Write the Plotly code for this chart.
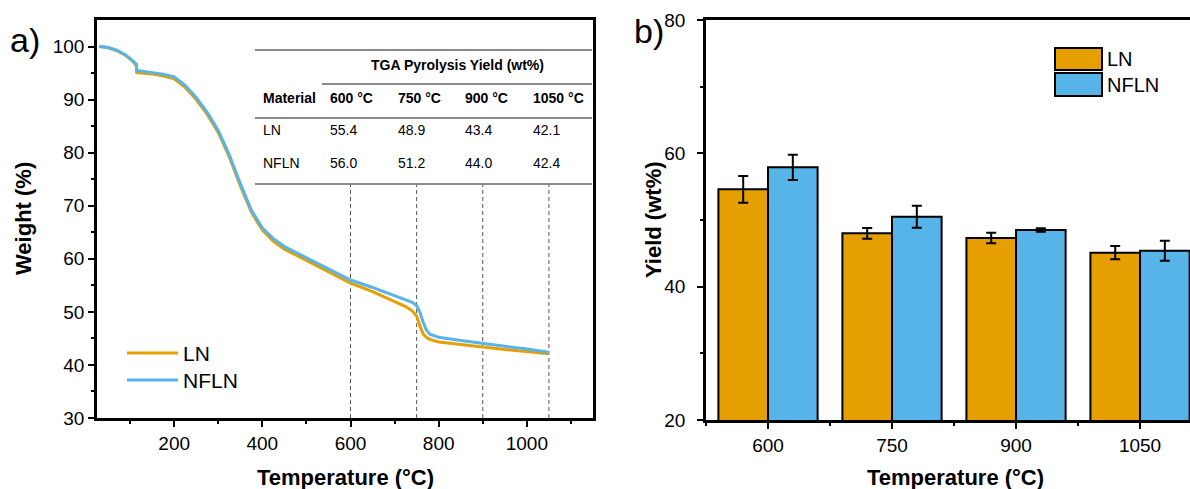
import plotly.graph_objects as go

W, H = 1190, 489


def px(x):
    return x / W


def py(y):
    return 1 - y / H


# ---------------- data ----------------
temps = [30, 50, 70, 90, 105, 114, 115, 130, 150, 175, 200, 225, 250, 275, 300,
         325, 350, 375, 400, 425, 450, 500, 550, 600, 650, 700, 725, 740, 750,
         758, 765, 772, 780, 800, 850, 900, 950, 1000, 1050]
weight_ln = [100.0, 99.8, 99.2, 98.3, 97.3, 96.5, 95.1, 95.0, 94.8, 94.5, 93.9,
             92.3, 90.0, 87.2, 83.8, 79.2, 73.8, 68.8, 65.4, 63.3, 61.8, 59.7,
             57.6, 55.4, 53.8, 52.0, 51.0, 50.2, 49.2, 47.2, 45.8, 45.2, 44.8,
             44.3, 43.9, 43.4, 42.9, 42.5, 42.1]
weight_nfln = [100.0, 99.8, 99.3, 98.4, 97.4, 96.7, 95.5, 95.3, 95.1, 94.8, 94.3,
               92.7, 90.4, 87.6, 84.2, 79.6, 74.2, 69.2, 65.8, 63.8, 62.3, 60.2,
               58.1, 56.0, 54.6, 53.1, 52.3, 51.8, 51.2, 49.8, 48.0, 46.6, 45.8,
               45.2, 44.6, 44.0, 43.5, 43.0, 42.4]

yield_temps = [600, 750, 900, 1050]
table_materials = ["LN", "NFLN"]
table_ln = [55.4, 48.9, 43.4, 42.1]
table_nfln = [56.0, 51.2, 44.0, 42.4]

bar_labels = ["600", "750", "900", "1050"]
yield_ln = [54.6, 48.0, 47.3, 45.1]
yield_ln_err = [2.0, 0.8, 0.8, 1.0]
yield_nfln = [57.9, 50.5, 48.5, 45.4]
yield_nfln_err = [1.9, 1.65, 0.25, 1.5]

ORANGE = "#E69F00"
BLUE = "#56B4E9"
FONT = "Liberation Sans, Arial, sans-serif"

fig = go.Figure()

# ---------------- panel a ----------------
fig.add_trace(go.Scatter(x=temps, y=weight_ln, mode="lines", name="LN",
                         line=dict(color=ORANGE, width=3), xaxis="x", yaxis="y",
                         showlegend=False))
fig.add_trace(go.Scatter(x=temps, y=weight_nfln, mode="lines", name="NFLN",
                         line=dict(color=BLUE, width=3), xaxis="x", yaxis="y",
                         showlegend=False))

# ---------------- panel b ----------------
bar_x = list(range(len(bar_labels)))
fig.add_trace(go.Bar(x=bar_x, y=yield_ln, name="LN", xaxis="x2", yaxis="y2",
                     marker=dict(color=ORANGE, line=dict(color="black", width=2)),
                     error_y=dict(type="data", array=yield_ln_err, color="black",
                                  thickness=2, width=5),
                     showlegend=False))
fig.add_trace(go.Bar(x=bar_x, y=yield_nfln, name="NFLN", xaxis="x2", yaxis="y2",
                     marker=dict(color=BLUE, line=dict(color="black", width=2)),
                     error_y=dict(type="data", array=yield_nfln_err, color="black",
                                  thickness=2, width=5),
                     showlegend=False))

axis_common = dict(showline=True, linewidth=2.5, linecolor="black", ticks="outside",
                   ticklen=6, tickwidth=2, tickcolor="black", showgrid=False,
                   zeroline=False, automargin=False,
                   tickfont=dict(family=FONT, size=19, color="black"))

fig.update_layout(
    width=W, height=H, margin=dict(l=0, r=0, t=0, b=0, pad=0, autoexpand=False),
    paper_bgcolor="white", plot_bgcolor="white",
    font=dict(family=FONT, color="black"),
    barmode="group", bargap=0.2, bargroupgap=0,
    xaxis=dict(domain=[px(97), px(593)], range=[25, 1150], anchor="y", mirror=True,
               tickvals=[200, 400, 600, 800, 1000],
               minor=dict(tickvals=[100, 300, 500, 700, 900, 1100], ticklen=3,
                          tickwidth=2, tickcolor="black", ticks="outside"),
               **axis_common),
    yaxis=dict(domain=[py(418), py(20)], range=[30, 105], anchor="x", mirror=True,
               tickvals=[30, 40, 50, 60, 70, 80, 90, 100],
               minor=dict(tickvals=[35, 45, 55, 65, 75, 85, 95], ticklen=3,
                          tickwidth=2, tickcolor="black", ticks="outside"),
               **axis_common),
    xaxis2=dict(domain=[px(706), 1.0], range=[-0.5, 3.403], anchor="y2", mirror=True,
                tickvals=bar_x, ticktext=bar_labels,
                minor=dict(tickvals=[-0.5, 0.5, 1.5, 2.5], ticklen=3,
                           tickwidth=2, tickcolor="black", ticks="outside"),
                **axis_common),
    yaxis2=dict(domain=[py(420), py(20)], range=[20, 80], anchor="x2",
                tickvals=[20, 40, 60, 80],
                minor=dict(tickvals=[30, 50, 70], ticklen=3,
                           tickwidth=2, tickcolor="black", ticks="outside"),
                ticklabelstandoff=8,
                **axis_common),
)

shapes = []
annotations = []

# dashed reference lines at the tabulated temperatures
for t in yield_temps:
    shapes.append(dict(type="line", xref="x", yref="y", x0=t, x1=t, y0=30, y1=74.1,
                       line=dict(color="#555555", width=1, dash="4px,3px"), layer="below"))

# table rules
for (x0, y) in [(255, 50), (322, 84), (255, 118), (255, 184)]:
    shapes.append(dict(type="line", xref="paper", yref="paper", x0=px(x0), x1=px(592),
                       y0=py(y), y1=py(y), line=dict(color="#8a8a8a", width=2)))


def text(x, y, s, size=14, bold=False, xanchor="left", textangle=0):
    annotations.append(dict(xref="paper", yref="paper", x=px(x), y=py(y),
                            text=f"<b>{s}</b>" if bold else s, showarrow=False,
                            xanchor=xanchor, yanchor="middle", textangle=textangle,
                            font=dict(family=FONT, size=size, color="black")))


# table text
text(457, 65, "TGA Pyrolysis Yield (wt%)", size=14, bold=True, xanchor="center")
col_x = [328, 396, 463, 531]
text(261, 98, "Material", size=14, bold=True)
for cx, t in zip(col_x, yield_temps):
    text(cx, 98, f"{t} °C", size=14, bold=True)
for ry, mat, vals in [(130, table_materials[0], table_ln), (163, table_materials[1], table_nfln)]:
    text(261, ry, mat, size=14)
    for cx, v in zip(col_x, vals):
        text(cx, ry, f"{v:.1f}", size=14)

# panel a legend
for y, c, name in [(353, ORANGE, "LN"), (380, BLUE, "NFLN")]:
    shapes.append(dict(type="line", xref="paper", yref="paper", x0=px(127), x1=px(178),
                       y0=py(y), y1=py(y), line=dict(color=c, width=3)))
    text(181, y, name, size=21)

# panel b legend
for (y0, y1), c, name in [((48, 70), ORANGE, "LN"), ((73, 96), BLUE, "NFLN")]:
    shapes.append(dict(type="rect", xref="paper", yref="paper", x0=px(1055), x1=px(1102),
                       y0=py(y1), y1=py(y0), fillcolor=c, line=dict(color="black", width=2)))
    text(1105, (y0 + y1) / 2, name, size=20)

# axis titles
text(345, 477, "Temperature (°C)", size=22, bold=True, xanchor="center")
text(955, 477, "Temperature (°C)", size=22, bold=True, xanchor="center")
text(23, 219, "Weight (%)", size=22, bold=True, xanchor="center", textangle=-90)
text(654, 220, "Yield (wt%)", size=22, bold=True, xanchor="center", textangle=-90)

# panel letters
text(8, 40, "a)", size=34)
text(632, 31, "b)", size=34)

fig.update_layout(shapes=shapes, annotations=annotations)
fig.write_html("out.html")
